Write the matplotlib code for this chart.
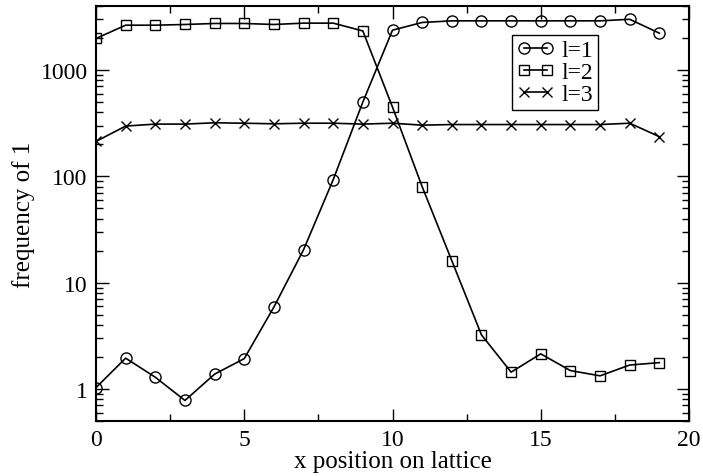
import matplotlib
matplotlib.use('Agg')
import matplotlib.pyplot as plt
from matplotlib.ticker import FixedLocator, LogLocator, NullFormatter

# data
x_pos = list(range(20))
freq_l1 = [1.03, 1.95, 1.29, 0.78, 1.38, 1.93, 5.9, 20.4, 93, 500,
           2370, 2800, 2900, 2900, 2900, 2900, 2900, 2900, 3000, 2220]
freq_l2 = [1980, 2640, 2640, 2680, 2740, 2740, 2680, 2760, 2760, 2330,
           448, 80, 16.1, 3.23, 1.44, 2.14, 1.49, 1.33, 1.68, 1.77]
freq_l3 = [213, 297, 310, 310, 319, 316, 312, 316, 316, 310,
           316, 303, 307, 307, 307, 307, 307, 307, 316, 236]
labels = ['l=1', 'l=2', 'l=3']

plt.rcParams['font.family'] = ['Liberation Serif', 'DejaVu Serif']
plt.rcParams['font.size'] = 17


def main():
    fig = plt.figure(figsize=(7.03, 4.77), dpi=100)
    ax = fig.add_axes([96 / 703, 1 - 422 / 477, 593 / 703, 415 / 477])

    ax.plot(x_pos, freq_l1, color='black', lw=1.2, marker='o', ms=8,
            mfc='none', mec='black', mew=1.0, label=labels[0])
    ax.plot(x_pos, freq_l2, color='black', lw=1.2, marker='s', ms=7.5,
            mfc='none', mec='black', mew=1.0, label=labels[1])
    ax.plot(x_pos, freq_l3, color='black', lw=1.2, marker='x', ms=6.5,
            mec='black', mew=1.0, label=labels[2])

    ax.set_yscale('log')
    ax.set_xlim(0, 20)
    ax.set_ylim(0.5, 4000)
    ax.xaxis.set_major_locator(FixedLocator([0, 5, 10, 15, 20]))
    ax.xaxis.set_minor_locator(FixedLocator([2.5, 7.5, 12.5, 17.5]))
    ax.yaxis.set_major_locator(FixedLocator([1, 10, 100, 1000]))
    ax.yaxis.set_minor_locator(LogLocator(base=10, subs=range(2, 10)))
    ax.yaxis.set_minor_formatter(NullFormatter())
    ax.set_yticklabels(['1', '10', '100', '1000'])

    ax.tick_params(which='both', direction='in', top=True, right=True, width=1.0)
    ax.tick_params(which='major', length=9, pad=6)
    ax.tick_params(which='minor', length=5)
    for s in ax.spines.values():
        s.set_linewidth(1.5)

    ax.set_xlabel('x position on lattice', fontsize=18, labelpad=0)
    ax.set_ylabel('frequency of 1', fontsize=18, labelpad=4)

    leg = ax.legend(loc='upper left', bbox_to_anchor=(416 / 593, 1 - 29 / 415),
                    numpoints=2, handlelength=1.6, handletextpad=0.3,
                    borderpad=0.2, labelspacing=0.02, fancybox=False,
                    framealpha=1, edgecolor='black', borderaxespad=0)
    leg.get_frame().set_linewidth(1.0)

    fig.savefig('out.png', dpi=100)


if __name__ == "__main__":
    main()
